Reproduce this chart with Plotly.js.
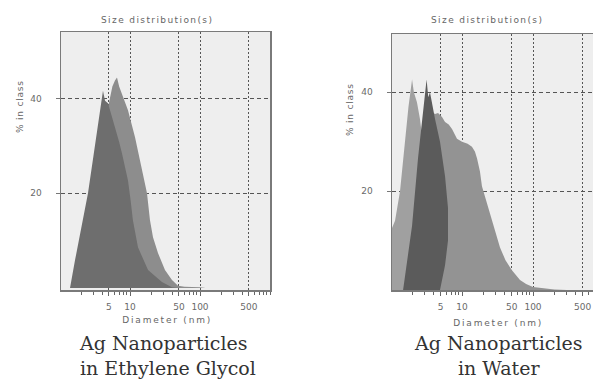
<!DOCTYPE html>
<html>
<head>
<meta charset="utf-8">
<script src="https://cdn.plot.ly/plotly-3.0.1.min.js"></script>
<style>
  html, body { margin: 0; padding: 0; background: #ffffff; }
  #chart { width: 593px; height: 379px; }
  g.annotation[data-index="0"] text, g.annotation[data-index="1"] text { letter-spacing: 1.4px; }
  g.annotation[data-index="2"] text, g.annotation[data-index="3"] text { letter-spacing: 0.8px; }
  g.annotation[data-index="4"] text, g.annotation[data-index="5"] text { letter-spacing: 1.8px; }
</style>
</head>
<body>
<div id="chart"></div>
<script>
// ---- Data (diameter in nm, % in class) ----
// Left panel: Ag nanoparticles in ethylene glycol
const egLightDiam = [2.0, 3.0, 3.73, 4.5, 5.18, 5.6, 6.1, 6.52, 7.0, 7.69, 8.4, 9.36, 11.8, 14.8, 17.5, 19.3, 21.3, 25.1, 31.6, 39.8, 48.5, 60, 100, 120];
const egLightPct  = [0, 18, 30, 36, 40.2, 42.5, 43.8, 44.4, 42.5, 41, 39.5, 37.5, 31.8, 24.8, 20, 14.3, 10.7, 7.4, 3.8, 1.7, 0.5, 0.3, 0.2, 0];
const egDarkDiam  = [1.28, 1.39, 1.64, 2.0, 2.51, 3.0, 3.49, 3.8, 4.11, 4.4, 4.85, 5.4, 6.1, 7.0, 7.69, 9.36, 10.2, 11.0, 13.0, 18.1, 28.6, 39.8, 50];
const egDarkPct   = [0, 0, 5.9, 12.4, 20, 27.8, 34, 38, 41.6, 39.5, 39, 36.6, 34, 30.8, 28.4, 22.7, 18.5, 14.3, 8.6, 3.8, 1.3, 0.2, 0];

// Right panel: Ag nanoparticles in water
const wLightDiam  = [0.95, 0.95, 1.03, 1.14, 1.34, 1.57, 1.76, 1.98, 2.1, 2.32, 2.56, 2.8, 3.2, 3.6, 4.0];
const wLightPct   = [0, 10, 12.5, 14, 20, 30, 37, 42.6, 40, 38, 34.6, 30, 22, 12, 0];
const wDarkDiam   = [1.48, 1.98, 2.4, 2.83, 3.17, 3.35, 3.54, 4.17, 4.9, 5.77, 6.35, 6.35, 5.77, 4.9];
const wDarkPct    = [0, 13, 26.6, 36.6, 42.6, 39, 40, 34.6, 30, 23, 16.6, 10, 5, 0];
const wMedDiam    = [3.0, 3.4, 3.78, 4.17, 4.6, 5.23, 5.77, 6.5, 7.23, 8.5, 10, 12, 13.8, 15.2, 16.3, 17.9, 19.1, 22.5, 27.4, 34.3, 41, 50.5, 65.6, 80, 100, 140, 200, 300];
const wMedPct     = [0, 28, 36, 35.6, 35.8, 35, 34, 33.5, 32.6, 30.6, 30, 29.6, 29, 28, 26.6, 24, 21, 17.5, 13, 8.6, 6, 4, 2, 1.2, 0.6, 0.3, 0.1, 0];

// Axis ticks
const xTickVals = [5, 10, 50, 100, 500];
const xTickText = ['5', '10', '50', '100', '500'];
const yTickVals = [20, 40];
const yTickText = ['20', '40'];

const panelTitle = 'Size distribution(s)';
const yTitle = '% in class';
const xTitle = 'Diameter (nm)';
const captionLeft = 'Ag Nanoparticles<br>in Ethylene Glycol';
const captionRight = 'Ag Nanoparticles<br>in Water';

function area(x, y, color, xa, ya) {
  return {
    type: 'scatter', mode: 'lines', x: x, y: y,
    fill: 'toself', fillcolor: color,
    line: { width: 0, color: color },
    xaxis: xa, yaxis: ya, hoverinfo: 'skip', showlegend: false
  };
}

const traces = [
  area(egLightDiam, egLightPct, '#8d8d8d', 'x', 'y'),
  area(egDarkDiam, egDarkPct, '#6e6e6e', 'x', 'y'),
  area(wMedDiam, wMedPct, '#939393', 'x2', 'y2'),
  area(wLightDiam, wLightPct, '#a0a0a0', 'x2', 'y2'),
  area(wDarkDiam, wDarkPct, '#5b5b5b', 'x2', 'y2')
];

const tickFont = { family: 'DejaVu Sans', size: 9, color: '#6a6a6a' };

function xAxis(domain, range, anchor) {
  return {
    type: 'log', domain: domain, range: range, anchor: anchor,
    tickmode: 'array', tickvals: xTickVals, ticktext: xTickText,
    ticks: 'outside', ticklen: 4, tickcolor: '#666', tickwidth: 1,
    ticklabelstandoff: 4,
    minor: { ticks: 'outside', ticklen: 3, tickcolor: '#666', tickwidth: 1, dtick: 'D1', showgrid: false },
    showgrid: true, gridcolor: '#555', gridwidth: 1, griddash: '2px,2px',
    showline: true, linecolor: '#7a7a7a', linewidth: 1.5, mirror: true,
    zeroline: false, tickfont: tickFont, fixedrange: true
  };
}
function yAxis(domain, range, anchor, mirror) {
  return {
    domain: domain, range: range, anchor: anchor,
    tickmode: 'array', tickvals: yTickVals, ticktext: yTickText,
    ticks: 'outside', ticklen: 4, tickcolor: '#777', tickwidth: 1,
    ticklabelstandoff: 12,
    showgrid: true, gridcolor: '#555', gridwidth: 1, griddash: '4px,3px',
    showline: true, linecolor: '#7a7a7a', linewidth: 1.5, mirror: mirror,
    zeroline: false, tickfont: tickFont, fixedrange: true
  };
}

const W = 593, H = 379;
const px = v => v / W;
const py = v => 1 - v / H;

const smallFont = { family: 'DejaVu Sans', size: 9, color: '#666666' };
const capFont = { family: 'DejaVu Serif', size: 19, color: '#333333' };

const layout = {
  width: W, height: H,
  margin: { l: 0, r: 0, t: 0, b: 0, pad: 0 },
  paper_bgcolor: '#ffffff',
  plot_bgcolor: '#eeeeee',
  showlegend: false,
  xaxis: xAxis([px(61), px(270)], [0.0143, 3.0], 'y'),
  yaxis: yAxis([py(290), py(32)], [-0.4, 54], 'x', true),
  xaxis2: xAxis([px(392), 1], [0.0141, 2.845], 'y2'),
  yaxis2: yAxis([py(290), py(34)], [0, 51.8], 'x2', false),
  annotations: [
    { text: panelTitle, xref: 'paper', yref: 'paper', x: px(157), y: py(20), xanchor: 'center', yanchor: 'middle', showarrow: false, font: smallFont },
    { text: panelTitle, xref: 'paper', yref: 'paper', x: px(487), y: py(20), xanchor: 'center', yanchor: 'middle', showarrow: false, font: smallFont },
    { text: yTitle, xref: 'paper', yref: 'paper', x: px(20), y: py(107), xanchor: 'center', yanchor: 'middle', textangle: -90, showarrow: false, font: smallFont },
    { text: yTitle, xref: 'paper', yref: 'paper', x: px(350), y: py(110), xanchor: 'center', yanchor: 'middle', textangle: -90, showarrow: false, font: smallFont },
    { text: xTitle, xref: 'paper', yref: 'paper', x: px(167), y: py(320), xanchor: 'center', yanchor: 'middle', showarrow: false, font: smallFont },
    { text: xTitle, xref: 'paper', yref: 'paper', x: px(498), y: py(323), xanchor: 'center', yanchor: 'middle', showarrow: false, font: smallFont },
    { text: captionLeft, xref: 'paper', yref: 'paper', x: px(77), y: py(355), xanchor: 'left', yanchor: 'middle', align: 'left', showarrow: false, font: capFont },
    { text: captionRight, xref: 'paper', yref: 'paper', x: px(498), y: py(355), xanchor: 'center', yanchor: 'middle', align: 'center', showarrow: false, font: capFont }
  ]
};

Plotly.newPlot('chart', traces, layout, { staticPlot: true, displayModeBar: false });
</script>
</body>
</html>
